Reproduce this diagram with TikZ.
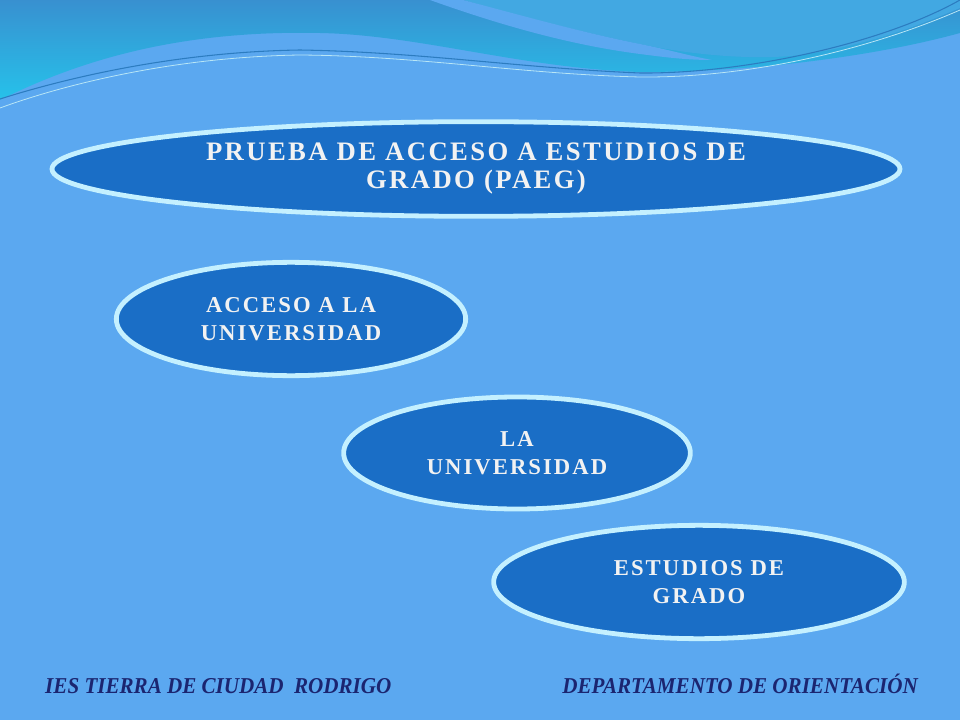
\documentclass[tikz,border=0pt]{standalone}
\usepackage{fontspec}
\setmainfont{Liberation Serif}
\newfontfamily\footfont{Liberation Serif}
\newfontfamily\ovalfont[LetterSpace=9]{Liberation Serif}
\usetikzlibrary{shapes.geometric}
\definecolor{bgblue}{HTML}{5BA8F0}
\definecolor{bandtop}{HTML}{3890D0}
\definecolor{bandlow}{HTML}{26C2EA}
\definecolor{lobeblue}{HTML}{42A8E2}
\definecolor{ovalfill}{HTML}{1A6EC6}
\definecolor{ovalrim}{HTML}{C4F0FF}
\definecolor{footnavy}{HTML}{1B2570}
\newcommand*{\ovaltext}[1]{\fontsize{#1}{21}\ovalfont\bfseries}

\begin{document}
\begin{tikzpicture}[x=0.75pt,y=-0.75pt,
  oval/.style={ellipse,draw=ovalrim,line width=3.6pt,fill=ovalfill,
    text=white!90!gray,align=center,inner sep=0pt,
    font=\ovaltext{17}},
  footer/.style={text=footnavy,inner sep=0pt,xscale=0.93,
    font=\fontsize{17}{17}\footfont\bfseries\itshape}]
% Slide background
\fill[bgblue] (0,0) rectangle (960,720);
\useasboundingbox (0,0) rectangle (960,720);
% Wave band across the top
\shade[top color=bandtop,bottom color=bandlow] (0,0) -- (960,0) -- (960,33)
  .. controls (880,55) and (760,72) .. (640,72)
  .. controls (520,68) and (420,35) .. (320,33)
  .. controls (180,30) and (80,60) .. (0,100) -- cycle;
% Lighter lobe at the upper right
\fill[lobeblue] (463,0) .. controls (540,22) and (600,36) .. (650,46)
  .. controls (700,56) and (760,60) .. (800,55)
  .. controls (870,45) and (920,25) .. (960,8) -- (960,0) -- cycle;
% Light strip that separates the lobe
\fill[bgblue] (430,0) .. controls (500,25) and (570,45) .. (640,54)
  .. controls (670,58) and (690,60) .. (712,60)
  .. controls (690,56) and (670,50) .. (640,44)
  .. controls (580,32) and (520,15) .. (463,0) -- cycle;
% Thin lines along the wave
\draw[line width=0.8pt,color={rgb,255:red,44;green,124;blue,192}]
  (0,99) .. controls (60,80) and (170,52) .. (300,50)
  .. controls (420,52) and (520,68) .. (640,73)
  .. controls (740,74) and (880,45) .. (960,0);
\draw[line width=0.6pt,color={rgb,255:red,184;green,230;blue,246}]
  (0,108) .. controls (60,86) and (170,57) .. (300,55)
  .. controls (420,56) and (520,74) .. (640,77)
  .. controls (760,78) and (880,45) .. (960,10);
% The four ovals
\node[oval,minimum width=636pt,minimum height=71pt,
  font=\ovaltext{20}] (paeg) at (476,169)
  {PRUEBA DE ACCESO A ESTUDIOS DE\\GRADO (PAEG)};
\node[oval,minimum width=262pt,minimum height=85pt] (acceso) at (291,319)
  {ACCESO A LA\\UNIVERSIDAD};
\node[oval,minimum width=260pt,minimum height=84pt] (univ) at (517,453)
  {LA\\UNIVERSIDAD};
\node[oval,minimum width=308pt,minimum height=85pt] (grado) at (699,582)
  {ESTUDIOS DE\\GRADO};
% Footer
\node[footer,anchor=base west] (ies) at (45,693)
  {IES TIERRA DE CIUDAD\ \ RODRIGO};
\node[footer,anchor=base east] (dpto) at (918,693)
  {DEPARTAMENTO DE ORIENTACIÓN};
\end{tikzpicture}
\end{document}
